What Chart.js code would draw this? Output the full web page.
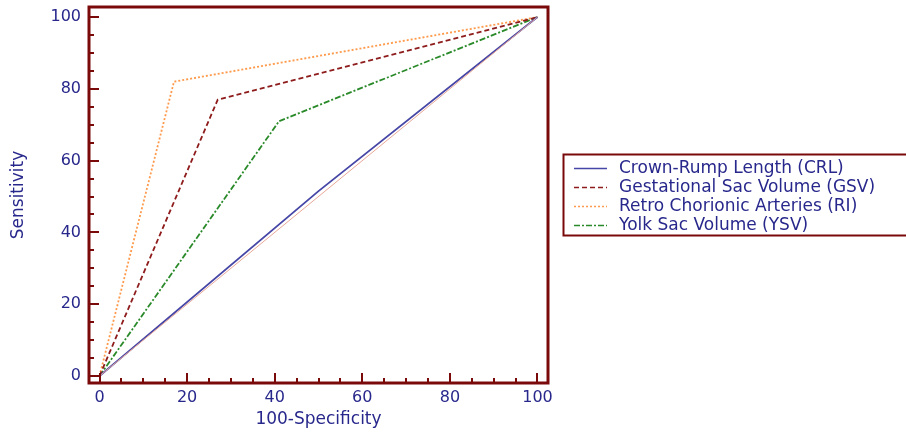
<!DOCTYPE html>
<html>
<head>
<meta charset="utf-8">
<script src="https://cdn.jsdelivr.net/npm/chart.js@4/dist/chart.umd.min.js"></script>
<style>
  html, body { margin: 0; padding: 0; background: #fff; overflow: hidden; }
  #wrap { width: 906px; height: 434px; }
</style>
</head>
<body>
<div id="wrap"><canvas id="roc" width="906" height="434"></canvas></div>
<script>
// ROC curves: x = 100-Specificity, y = Sensitivity
var seriesNames = ['Crown-Rump Length (CRL)', 'Gestational Sac Volume (GSV)', 'Retro Chorionic Arteries (RI)', 'Yolk Sac Volume (YSV)'];
var crlX = [0, 50, 100];
var crlY = [0, 51.5, 100];
var gsvX = [0, 27, 100];
var gsvY = [0, 77, 100];
var riX = [0, 17, 100];
var riY = [0, 82, 100];
var ysvX = [0, 41, 100];
var ysvY = [0, 71, 100];
var diagX = [0, 100];
var diagY = [0, 100];
var tickValues = [0, 20, 40, 60, 80, 100];

var textColor = '#28288c';
var frameColor = '#7a0a0a';

function pts(xs, ys) {
    return xs.map(function(x, i) { return { x: x, y: ys[i] }; });
}

// frame + inward ticks along left and bottom
var framePlugin = {
    id: 'frame',
    afterDraw: function(chart) {
        var ctx = chart.ctx, a = chart.chartArea;
        var xs = chart.scales.x, ys = chart.scales.y;
        ctx.save();
        ctx.strokeStyle = frameColor;
        ctx.lineWidth = 3;
        ctx.strokeRect(a.left, a.top, a.right - a.left, a.bottom - a.top);
        ctx.lineWidth = 2;
        for (var v = 0; v <= 100; v += 5) {
            var len = (v % 20 === 0) ? 10 : 5;
            var px = Math.round(xs.getPixelForValue(v));
            ctx.beginPath();
            ctx.moveTo(px, a.bottom);
            ctx.lineTo(px, a.bottom - len);
            ctx.stroke();
            var py = Math.round(ys.getPixelForValue(v));
            ctx.beginPath();
            ctx.moveTo(a.left, py);
            ctx.lineTo(a.left + len, py);
            ctx.stroke();
        }
        ctx.restore();
    }
};

// boxed legend to the right of the plot
var legendPlugin = {
    id: 'boxLegend',
    afterDraw: function(chart) {
        var ctx = chart.ctx;
        var left = 563.5, top = 154.5, rowH = 19;
        ctx.save();
        ctx.strokeStyle = frameColor;
        ctx.lineWidth = 2;
        ctx.strokeRect(left, top, 400, 81);
        ctx.font = '17px "DejaVu Sans"';
        ctx.textBaseline = 'middle';
        ctx.fillStyle = textColor;
        var row = 0;
        chart.data.datasets.forEach(function(ds) {
            if (ds.noLegend) return;
            var cy = top + 14 + row * rowH;
            ctx.strokeStyle = ds.borderColor;
            ctx.lineWidth = 1.5;
            ctx.setLineDash(ds.borderDash || []);
            ctx.beginPath();
            ctx.moveTo(574, cy);
            ctx.lineTo(607, cy);
            ctx.stroke();
            ctx.setLineDash([]);
            ctx.fillText(ds.label, 619, cy);
            row++;
        });
        ctx.restore();
    }
};

var lineDefaults = { showLine: true, pointRadius: 0, borderWidth: 1.8, fill: false, tension: 0 };

new Chart(document.getElementById('roc'), {
    type: 'scatter',
    data: {
        datasets: [
            Object.assign({ label: 'diag', data: pts(diagX, diagY), borderColor: '#e8a898', noLegend: true }, lineDefaults, { borderWidth: 1 }),
            Object.assign({ label: seriesNames[0], data: pts(crlX, crlY), borderColor: '#4646a6' }, lineDefaults),
            Object.assign({ label: seriesNames[1], data: pts(gsvX, gsvY), borderColor: '#8e1c1c', borderDash: [5, 3] }, lineDefaults),
            Object.assign({ label: seriesNames[2], data: pts(riX, riY), borderColor: '#ff9a4c', borderDash: [2, 2] }, lineDefaults),
            Object.assign({ label: seriesNames[3], data: pts(ysvX, ysvY), borderColor: '#2a8a2a', borderDash: [6, 2, 2, 2] }, lineDefaults)
        ]
    },
    options: {
        responsive: false,
        animation: false,
        devicePixelRatio: 1,
        layout: { padding: { top: 7, right: 358, left: 0, bottom: 0 } },
        plugins: { legend: { display: false }, tooltip: { enabled: false } },
        scales: {
            x: {
                type: 'linear',
                min: -2.4,
                max: 102.4,
                afterBuildTicks: function(s) { s.ticks = tickValues.map(function(v) { return { value: v }; }); },
                afterFit: function(s) { s.height = 51; s.paddingLeft = 0; s.paddingRight = 0; },
                grid: { display: false, drawTicks: false },
                border: { display: false },
                ticks: { color: textColor, font: { family: 'DejaVu Sans', size: 16 }, padding: 5, maxRotation: 0 },
                title: { display: true, text: '100-Specificity', color: textColor, font: { family: 'DejaVu Sans', size: 17 }, padding: { top: 0, bottom: 4 } }
            },
            y: {
                type: 'linear',
                min: -1.95,
                max: 102.8,
                afterBuildTicks: function(s) { s.ticks = tickValues.map(function(v) { return { value: v }; }); },
                afterFit: function(s) { s.width = 89; s.paddingTop = 0; s.paddingBottom = 0; },
                grid: { display: false, drawTicks: false },
                border: { display: false },
                ticks: { color: textColor, font: { family: 'DejaVu Sans', size: 16 }, padding: 8 },
                title: { display: true, text: 'Sensitivity', color: textColor, font: { family: 'DejaVu Sans', size: 17 }, padding: { top: 8, bottom: 0 } }
            }
        }
    },
    plugins: [framePlugin, legendPlugin]
});
</script>
</body>
</html>
